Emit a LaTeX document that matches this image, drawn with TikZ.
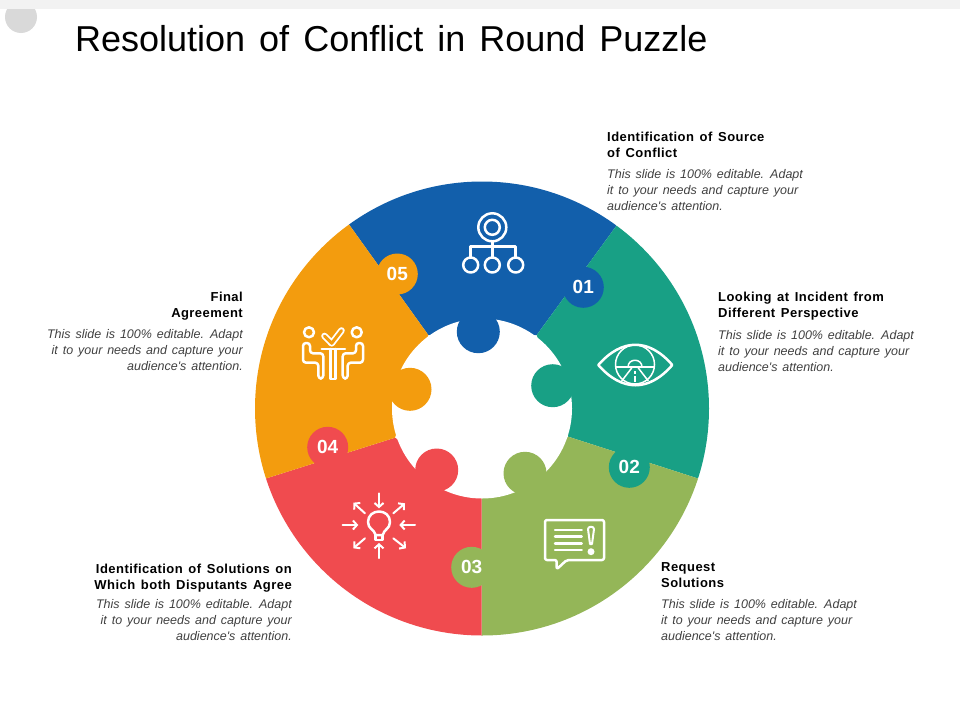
\documentclass[tikz,border=0pt]{standalone}
\usepackage{fontspec}
\usepackage{xcolor}
\usetikzlibrary{positioning}
\usetikzlibrary{arrows.meta}
\setmainfont{Liberation Sans}
\newfontfamily\bodyfont[WordSpace=2.15]{Liberation Sans}
\newfontfamily\headfont[WordSpace=1.4,LetterSpace=3.5]{Liberation Sans}
\newfontfamily\titlefont[WordSpace=1.4]{Liberation Sans}
\definecolor{bluepiece}{HTML}{125FAB}
\definecolor{tealpiece}{HTML}{18A085}
\definecolor{greenpiece}{HTML}{94B658}
\definecolor{redpiece}{HTML}{F04B4F}
\definecolor{orangepiece}{HTML}{F39C0E}
\definecolor{bodygrey}{HTML}{404040}
\tikzset{
  numtab/.style={circle,inner sep=0,minimum size=41pt,text=white,font=\fontsize{19}{19}\selectfont\bfseries},
  innertab/.style={circle,inner sep=0,minimum size=43pt},
  headleft/.style={inner sep=0,anchor=north west,align=left,font=\headfont\fontsize{13}{16}\selectfont\bfseries},
  headright/.style={inner sep=0,anchor=north east,align=right,font=\headfont\fontsize{13}{16}\selectfont\bfseries},
  bodyleft/.style={inner sep=0,anchor=north west,align=left,text=bodygrey,font=\bodyfont\fontsize{12.5}{16}\selectfont\itshape},
  bodyright/.style={inner sep=0,anchor=north east,align=right,text=bodygrey,font=\bodyfont\fontsize{12.5}{16}\selectfont\itshape},
  iconline/.style={draw=white,line width=2.5pt,line join=round,line cap=round},
  thinline/.style={draw=white,line width=1.5pt,line join=round},
  inarrow/.style={iconline,line width=2pt,-{Straight Barb[length=4pt,width=9pt,line width=2pt]}}
}
\begin{document}
\begin{tikzpicture}[x=1pt,y=-1pt]
  \useasboundingbox (0,0) rectangle (960,720);
  % page header
  \fill[black!15] (21,17) circle [radius=16];
  \fill[black!5] (0,0) rectangle (960,9);
  \node(title) [inner sep=0,anchor=base west,font=\titlefont\fontsize{36}{36}\selectfont] at (75,51) {Resolution of Conflict in Round Puzzle};

  % the five pieces
  \coordinate (hub) at (482,408.5);
  \begin{scope}
    \clip (hub) circle [radius=227];
    \fill[bluepiece] (428.3,335) -- (320,184) -- (320,150) -- (655.2,150) -- (655.2,172.5) -- (536.7,335) -- cycle;
    \fill[tealpiece] (536.7,335) -- (655.2,172.5) -- (760,172.5) -- (760,498.5) -- (568.3,436.7) -- cycle;
    \fill[greenpiece] (568.3,436.7) -- (760,498.5) -- (760,660) -- (481.7,660) -- (481.7,498) -- cycle;
    \fill[redpiece] (481.7,498) -- (481.7,660) -- (220,660) -- (220,493) -- (395,437.7) -- cycle;
    \fill[orangepiece] (395,437.7) -- (220,493) -- (220,150) -- (320,184) -- (428.3,335) -- cycle;
  \end{scope}
  \fill[white] (hub) circle [radius=90];

  % tabs facing the hole
  \node(keyblue) [innertab,fill=bluepiece] at (478.3,331.7) {};
  \node(keyteal) [innertab,fill=tealpiece] at (552.7,385.7) {};
  \node(keygreen) [innertab,fill=greenpiece] at (525,473.3) {};
  \node(keyred) [innertab,fill=redpiece] at (436.7,470) {};
  \node(keyorange) [innertab,fill=orangepiece] at (410,389.3) {};

  % numbered tabs
  \node(numone) [numtab,fill=bluepiece] at (583.3,287.3) {01};
  \node(numtwo) [numtab,fill=tealpiece] at (629.3,467.3) {02};
  \node(numthree) [numtab,fill=greenpiece] at (471.7,567.3) {03};
  \node(numfour) [numtab,fill=redpiece] at (327.7,447.3) {04};
  \node(numfive) [numtab,fill=orangepiece] at (397.3,274) {05};

  % tree icon
  \draw[iconline] (492.3,227.3) circle [radius=14];
  \draw[iconline] (492.3,227.3) circle [radius=7.5];
  \draw[iconline] (492.3,241.3) -- (492.3,257);
  \draw[iconline] (470.7,257) -- (470.7,246.7) -- (515.7,246.7) -- (515.7,257);
  \foreach \x in {470.7,492.3,515.7}
    \draw[iconline] (\x,265) circle [radius=7.5];

  % eye icon
  \draw[iconline] (598.3,365) .. controls (622,338) and (649,338) .. (672.3,365) .. controls (649,392) and (622,392) .. (598.3,365) -- cycle;
  \draw[thinline] (635,364.5) circle [radius=19.5];
  \draw[thinline] (615.5,367) -- (654.5,367);
  \draw[thinline] (628,367) .. controls (628,358) and (642,358) .. (642,367);
  \draw[thinline] (621.7,381) -- (631.7,368);
  \draw[thinline] (648.3,381) -- (638.3,368);
  \draw[iconline,line cap=butt] (635,371) -- (635,374);
  \draw[iconline,line cap=butt] (635,376) -- (635,381.5);

  % speech icon
  \draw[iconline,rounded corners=2pt] (553.3,560) -- (545,560) -- (545,520) -- (604,520) -- (604,560) -- (566.7,560) -- (556.7,569.3) -- (556.7,560) -- cycle;
  \foreach \y in {530,536.7,543.3,550}
    \draw[iconline] (555,\y) -- (581.7,\y);
  \draw[iconline,line width=2pt] (588,529) .. controls (588,526) and (594,526) .. (594,529) -- (592,544) -- (590,544) -- cycle;
  \fill[white] (591,551.7) circle [radius=3.5];

  % bulb icon
  \draw[iconline] (375.7,535) .. controls (374,529) and (368,529) .. (368,522) .. controls (368,508) and (390,508) .. (390,522) .. controls (390,529) and (384,529) .. (382.7,535) -- cycle;
  \draw[iconline] (375.7,535) rectangle (382.7,540);
  \draw[inarrow] (379,493.3) -- (379,508.3);
  \draw[inarrow] (379,558) -- (379,543);
  \draw[inarrow] (342.7,525) -- (358.3,525);
  \draw[inarrow] (415,525) -- (399.3,525);
  \draw[inarrow] (365,513.3) -- (353.3,502.7);
  \draw[inarrow] (393.3,513.3) -- (405,503.3);
  \draw[inarrow] (365,538.3) -- (353.3,548.3);
  \draw[inarrow] (393.3,538.3) -- (406,548.3);

  % agreement icon
  \draw[iconline] (309,332.3) circle [radius=5];
  \draw[iconline] (356.7,332.3) circle [radius=5];
  \draw[white,line width=1.8pt,double=orangepiece,double distance=3pt,line join=round,line cap=round] (324.5,336) -- (331.7,343.3) -- (341.5,330.5);
  \draw[iconline] (321.7,349) -- (345,349);
  \draw[iconline] (330.5,349) -- (330.5,379) -- (335.5,379) -- (335.5,349);
  \draw[iconline,rounded corners=3pt] (303,343) -- (303,362.7) -- (318.3,362.7) -- (318.3,378.5) -- (323.3,378.5) -- (323.3,353.3) -- (310,353.3) -- (310,343) -- cycle;
  \draw[iconline,rounded corners=3pt] (363,343) -- (363,362.7) -- (347.7,362.7) -- (347.7,378.5) -- (342.7,378.5) -- (342.7,353.3) -- (356,353.3) -- (356,343) -- cycle;

  % captions
  \node(headone) [headleft] at (607,132) {Identification of Source\\of Conflict};
  \node(textone) [bodyleft,below=11pt of headone.south west,anchor=north west] {This slide is 100\% editable. Adapt\\it to your needs and capture your\\audience's attention.};
  \node(headtwo) [headleft] at (718,292) {Looking at Incident from\\Different Perspective};
  \node(texttwo) [bodyleft,below=10pt of headtwo.south west,anchor=north west] {This slide is 100\% editable. Adapt\\it to your needs and capture your\\audience's attention.};
  \node(headthree) [headleft] at (661,562) {Request\\Solutions};
  \node(textthree) [bodyleft,below=12pt of headthree.south west,anchor=north west] {This slide is 100\% editable. Adapt\\it to your needs and capture your\\audience's attention.};
  \node(headfour) [headright] at (292,564) {Identification of Solutions on\\Which both Disputants Agree};
  \node(textfour) [bodyright,below=7pt of headfour.south east,anchor=north east] {This slide is 100\% editable. Adapt\\it to your needs and capture your\\audience's attention.};
  \node(headfive) [headright] at (243,292) {Final\\Agreement};
  \node(textfive) [bodyright,below=9pt of headfive.south east,anchor=north east] {This slide is 100\% editable. Adapt\\it to your needs and capture your\\audience's attention.};
\end{tikzpicture}
\end{document}
